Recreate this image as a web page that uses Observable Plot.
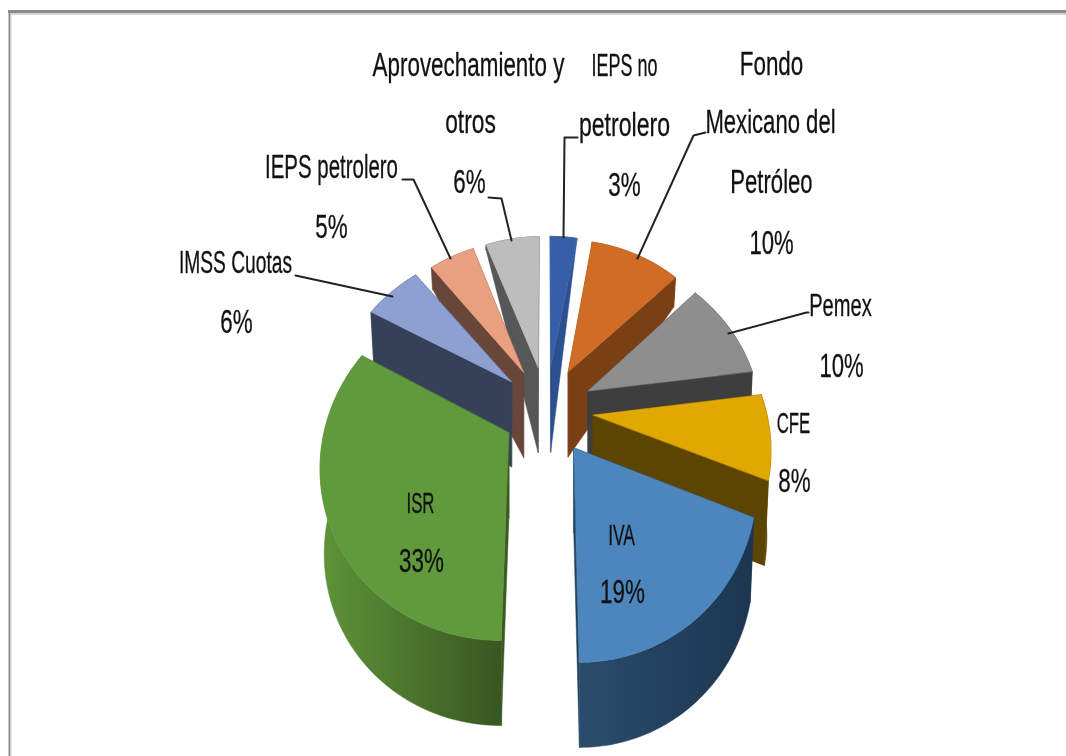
<!DOCTYPE html>
<html><head><meta charset="utf-8">
<script src="https://cdn.jsdelivr.net/npm/d3@7"></script>
<script src="https://cdn.jsdelivr.net/npm/@observablehq/plot@0.6"></script>
<style>html,body{margin:0;padding:0;background:#fff;overflow:hidden} svg{display:block} text{filter:blur(.4px)}</style>
</head><body><div id="chart"></div>
<script>
// chart values, clockwise from the top
const names = ["IEPS no petrolero","Fondo Mexicano del Petróleo","Pemex","CFE","IVA","ISR","IMSS Cuotas","IEPS petrolero","Aprovechamiento y otros"];
const values = [3,10,10,8,19,33,6,5,6];
const topColors  = ["#3560A8","#D06C26","#8E8E8E","#E0A800","#4C86BC","#619A3C","#8CA0D2","#E9A080","#BDBDBD"];
const wallColors = ["#2C5090","#7B3F15","#3E3E3E","#5B4500","#20405C","#3A5A22","#364059","#68463A","#575757"];
const rimFrom    = ["#2C5090","#7B3F15","#3E3E3E","#5B4500","#2A4C6C","#5E9439","#364059","#68463A","#575757"];
const rimTo      = ["#2C5090","#7B3F15","#3E3E3E","#5B4500","#1C3650","#385620","#364059","#68463A","#575757"];
const paintOrder = [0,8,7,1,2,6,3,4,5];

// text lines
const lineText = ["Aprovechamiento y","otros","6%","IEPS no","petrolero","3%","Fondo","Mexicano del","Petróleo","10%","IEPS petrolero","5%","IMSS Cuotas","6%","Pemex","10%","CFE","8%","ISR","33%","IVA","19%"];
const lineX = [468,470,469,624,624,624,771,770,771,771,331,331,235,236,840,841,793,794,420,421,621,622];
const lineY = [65,122,182,66,125,185,64,122,182,243,167,227,263,322,306,366,423,481,503,561,535,592];
const lineSize = [33,33,33,31,33,33,33,33,33,33,33,33,31,33,31,33,30,33,30,33,30,33];
const lineSqueeze = [.68,.69,.68,.58,.7,.68,.68,.67,.67,.67,.62,.68,.62,.68,.65,.67,.56,.68,.56,.68,.58,.68];

// leader lines
const leaderId = [0,0,0,1,1,1,2,2,2,3,3,3,4,4,4,5,5];
const leaderX = [488,501,511, 577,564,563, 705,693,637, 808,806,728, 402,413,450, 295,392];
const leaderY = [197,198,240, 137,137,237, 132,135,258, 312,312,333, 179,179,258, 275,296];

// view of the tilted pie
const cx = 546, cy = 409, A = 173, B = 165, p = 0.165, e = 0.27, D = 85;
const project = (U, V, low) => {
  const w = 1 - p * V;
  let x = cx + A * U / w, y = cy + B * V / w;
  if (low) {
    const dx = x - cx;
    x -= 0.025 * Math.sign(dx) * Math.max(0, Math.abs(dx) - 60);
    y += D * Math.min(1, Math.max(0, (V + 1.25) / 0.95));
  }
  return [x, y];
};
const polys = [];
const add = (id, pts, c) => pts.forEach(([x, y]) => polys.push({id, x, y, c}));
const cum = d3.cumsum(values);
const total = d3.sum(values);
paintOrder.forEach((i) => {
  const a0 = (i ? cum[i - 1] : 0) / total * 2 * Math.PI, a1 = cum[i] / total * 2 * Math.PI, m = (a0 + a1) / 2;
  // the left-hand slices are drawn a little wider in the reference
  const ou = e * Math.sin(m) + (i === 5 ? 0.02 : 0), ov = -e * Math.cos(m);
  const wide = i === 5 || i === 6 ? 1.045 : 1;
  const n = Math.max(4, Math.round((a1 - a0) / 0.02));
  const pt = (a, low) => project(ou + wide * Math.sin(a), ov - Math.cos(a), low);
  const tip = (low) => project(ou, ov, low);
  const angles = d3.range(n + 1).map((k) => a0 + (a1 - a0) * k / n);
  add(`w0-${i}`, [tip(false), pt(a0, false), pt(a0, true), tip(true)], wallColors[i]);
  add(`w1-${i}`, [tip(false), pt(a1, false), pt(a1, true), tip(true)], wallColors[i]);
  add(`r-${i}`, [...angles.map((a) => pt(a, false)), ...angles.slice().reverse().map((a) => pt(a, true))], `url(#rim-${i})`);
  add(`t-${i}`, [tip(false), ...angles.map((a) => pt(a, false))], topColors[i]);
});

const textRows = lineText.map((text, i) => ({text, x: lineX[i], y: lineY[i], size: lineSize[i], squeeze: lineSqueeze[i]}));
const leaders = leaderId.map((id, i) => ({id, x: leaderX[i], y: leaderY[i]}));

const squeezeText = (index, scales, values_, dims, context, next) => {
  const g = next(index, scales, values_, dims, context);
  g.querySelectorAll("text").forEach((t, j) => {
    const row = textRows[index[j]];
    t.setAttribute("transform", `${t.getAttribute("transform") || ""} scale(${row.squeeze},1)`);
    t.setAttribute("font-size", row.size);
  });
  return g;
};
const rimGradients = () => {
  const defs = d3.create("svg:defs");
  values.forEach((_, i) => {
    const g = defs.append("linearGradient").attr("id", `rim-${i}`);
    g.append("stop").attr("offset", 0).attr("stop-color", rimFrom[i]);
    g.append("stop").attr("offset", 1).attr("stop-color", rimTo[i]);
  });
  return defs.node();
};

const chart = Plot.plot({
  width: 1066, height: 756, margin: 0,
  x: {domain: [0, 1066], range: [0, 1066], axis: null},
  y: {domain: [0, 756], range: [0, 756], axis: null},
  color: {type: "identity"},
  marks: [
    rimGradients,
    Plot.ruleY([11], {x1: 8, x2: 1066, stroke: "#8a8a8a", strokeWidth: 3}),
    Plot.ruleY([13.5], {x1: 10, x2: 1066, stroke: "#d4d4d4", strokeWidth: 2}),
    Plot.ruleX([9], {y1: 10, y2: 756, stroke: "#8a8a8a", strokeWidth: 2}),
    Plot.ruleX([10.5], {y1: 13, y2: 756, stroke: "#d4d4d4", strokeWidth: 1}),
    Plot.line(polys, {x: "x", y: "y", z: "id", fill: "c", stroke: "c", strokeWidth: 0.5, curve: "linear-closed"}),
    Plot.line(leaders, {x: "x", y: "y", z: "id", stroke: "#222", strokeWidth: 2}),
    Plot.text(textRows, {x: "x", y: "y", text: "text", fontFamily: "Liberation Sans", fontSize: 33, fill: "#111", stroke: "#111", strokeWidth: 0.3, render: squeezeText})
  ]
});
document.getElementById("chart").append(chart);
</script></body></html>
